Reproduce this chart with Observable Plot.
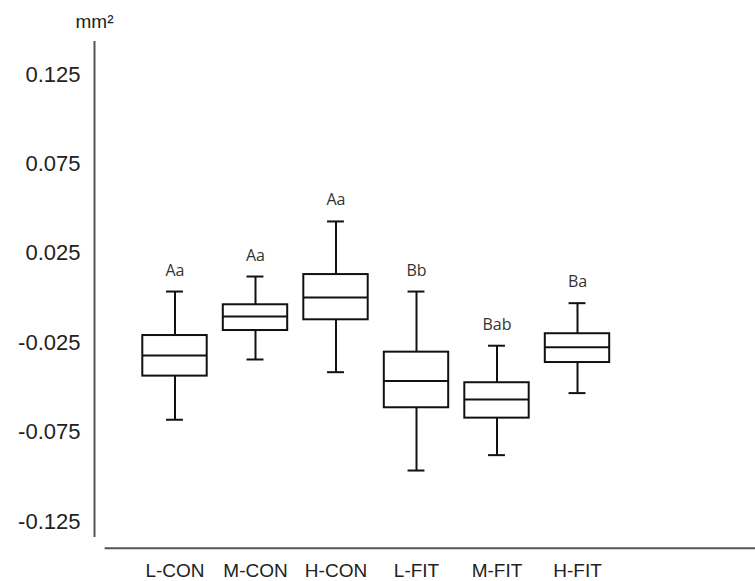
<!DOCTYPE html>
<html>
<head>
<meta charset="utf-8">
<script src="https://cdn.jsdelivr.net/npm/d3@7"></script>
<script src="https://cdn.jsdelivr.net/npm/@observablehq/plot@0.6"></script>
<style>
  html, body { margin: 0; padding: 0; background: #fff; }
  #chart svg { display: block; }
</style>
</head>
<body>
<div id="chart"></div>
<script>
const categories = ["L-CON", "M-CON", "H-CON", "L-FIT", "M-FIT", "H-FIT"];
const whiskerMax = [0.0036, 0.0120, 0.0428, 0.0036, -0.0267, -0.0029];
const q3 = [-0.0210, -0.0038, 0.0131, -0.0303, -0.0474, -0.0200];
const median = [-0.0322, -0.0103, 0.0003, -0.0465, -0.0568, -0.0275];
const q1 = [-0.0437, -0.0182, -0.0122, -0.0614, -0.0672, -0.0361];
const whiskerMin = [-0.0681, -0.0344, -0.0415, -0.0965, -0.0879, -0.0532];
const letters = ["Aa", "Aa", "Aa", "Bb", "Bab", "Ba"];
const yTicks = [0.125, 0.075, 0.025, -0.025, -0.075, -0.125];
const yUnit = "mm²";

const rows = categories.map((c, i) => ({
  i, cat: c, max: whiskerMax[i], q3: q3[i], med: median[i], q1: q1[i], min: whiskerMin[i], letter: letters[i]
}));

const halfBox = 0.4, halfCap = 0.105;
const yAxisExtent = [-0.134, 0.1435];
const xAxisExtent = [-0.868, 7.3];
const xAxisY = -0.14;

const chart = Plot.plot({
  width: 755,
  height: 581,
  marginLeft: 94,
  marginRight: 17,
  marginTop: 11.4,
  marginBottom: 33.2,
  style: { fontFamily: "'Liberation Sans', Arial, sans-serif", color: "#222", background: "#fff" },
  x: { domain: [-1, 7], axis: null },
  y: { domain: [-0.14, 0.16], axis: null },
  marks: [
    Plot.ruleX([-1], { y1: yAxisExtent[0], y2: yAxisExtent[1], stroke: "#555", strokeWidth: 2 }),
    Plot.ruleY([xAxisY], { x1: xAxisExtent[0], x2: xAxisExtent[1], stroke: "#555", strokeWidth: 2 }),
    Plot.axisY({
      ticks: yTicks, tickSize: 0, tickPadding: 14, fontSize: 22,
      tickFormat: d => d.toFixed(3), fill: "#222", label: null
    }),
    Plot.text([yUnit], { x: -1, y: yAxisExtent[1], text: d => d, dy: -13, fontSize: 19, fill: "#222", textAnchor: "middle", lineAnchor: "bottom" }),
    Plot.axisX({
      ticks: rows.map(r => r.i), tickFormat: i => categories[i], tickSize: 0, tickPadding: 15,
      fontSize: 19, fill: "#222", label: null
    }),
    Plot.ruleX(rows, { x: "i", y1: "q3", y2: "max", stroke: "#111", strokeWidth: 2 }),
    Plot.ruleX(rows, { x: "i", y1: "min", y2: "q1", stroke: "#111", strokeWidth: 2 }),
    Plot.ruleY(rows, { y: "max", x1: d => d.i - halfCap, x2: d => d.i + halfCap, stroke: "#111", strokeWidth: 2 }),
    Plot.ruleY(rows, { y: "min", x1: d => d.i - halfCap, x2: d => d.i + halfCap, stroke: "#111", strokeWidth: 2 }),
    Plot.rect(rows, { x1: d => d.i - halfBox, x2: d => d.i + halfBox, y1: "q1", y2: "q3", fill: "#fff", stroke: "#111", strokeWidth: 2 }),
    Plot.ruleY(rows, { y: "med", x1: d => d.i - halfBox, x2: d => d.i + halfBox, stroke: "#111", strokeWidth: 2 }),
    Plot.text(rows, { x: "i", y: "max", text: "letter", dy: -16, lineAnchor: "bottom", fontSize: 16, fill: "#333", fontFamily: "'Open Sans', sans-serif" })
  ]
});

document.getElementById("chart").appendChild(chart);
</script>
</body>
</html>
